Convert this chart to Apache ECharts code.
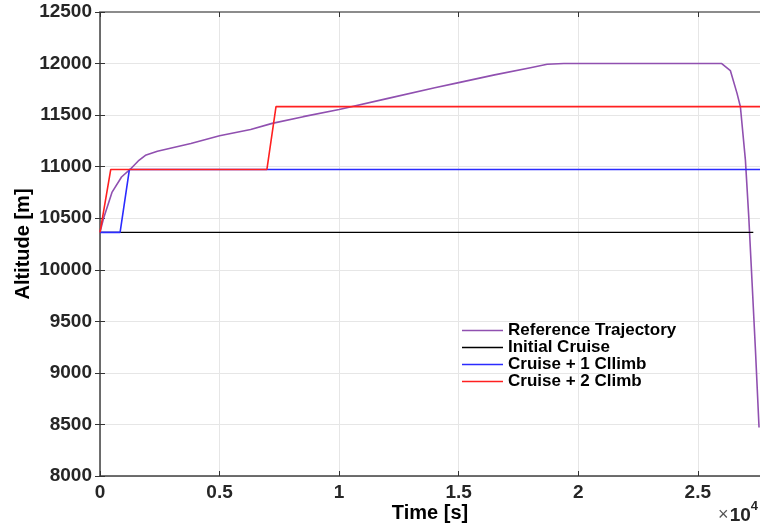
<!DOCTYPE html>
<html>
<head>
<meta charset="utf-8">
<title>Altitude profiles</title>
<script src="https://cdn.jsdelivr.net/npm/echarts@6/dist/echarts.min.js"></script>
<style>
  html, body { margin: 0; padding: 0; background: #fff; }
  #chart { width: 760px; height: 528px; }
</style>
</head>
<body>
<div id="chart"></div>
<script>
// Flight altitude profiles: time [s] vs altitude [m]
const seriesNames = ['Reference Trajectory', 'Initial Cruise', 'Cruise + 1 Cllimb', 'Cruise + 2 Climb'];
const seriesColors = ['#9050b0', '#000000', '#2b2bff', '#ff2020'];

const refTime = [0, 150, 500, 900, 1255, 1600, 1900, 2400, 3800, 5000, 6300, 7200, 8500, 10000, 12000, 14000, 15000, 16500, 18000, 18700, 19400, 26000, 26360, 26640, 26780, 26990, 27130, 27270, 27410, 27560];
const refAlt  = [10363, 10500, 10750, 10900, 10973, 11055, 11110, 11150, 11225, 11300, 11360, 11420, 11485, 11555, 11660, 11765, 11815, 11890, 11960, 11993, 12000, 12000, 11932, 11711, 11581, 11063, 10513, 9869, 9219, 8470];

const initTime = [0, 27320];
const initAlt  = [10363, 10363];

const oneClimbTime = [0, 840, 1230, 27600];
const oneClimbAlt  = [10363, 10363, 10973, 10973];

const twoClimbTime = [0, 450, 6980, 7360, 27600];
const twoClimbAlt  = [10363, 10973, 10973, 11582, 11582];

const xTicks = [0, 5000, 10000, 15000, 20000, 25000];
const yTicks = [8000, 8500, 9000, 9500, 10000, 10500, 11000, 11500, 12000, 12500];

const zip = (t, a) => t.map((v, i) => [v, a[i]]);
const seriesData = [
  zip(refTime, refAlt),
  zip(initTime, initAlt),
  zip(oneClimbTime, oneClimbAlt),
  zip(twoClimbTime, twoClimbAlt)
];

const FONT = '"Liberation Sans", Arial, Helvetica, sans-serif';
const chart = echarts.init(document.getElementById('chart'), null, { renderer: 'canvas' });

const tickStyle = { show: true, inside: true, length: 5, lineStyle: { color: '#333', width: 1 } };
const gridLine = { show: true, lineStyle: { color: '#e6e6e6', width: 1 } };

chart.setOption({
  animation: false,
  backgroundColor: '#fff',
  textStyle: { fontFamily: FONT },
  grid: { left: 100, right: 0, top: 12, bottom: 52, containLabel: false, outerBoundsMode: 'none' },
  legend: {
    orient: 'vertical',
    left: 462,
    top: 322,
    itemWidth: 41,
    itemHeight: 1.6,
    itemGap: 0,
    padding: 0,
    icon: 'rect',
    data: seriesNames,
    textStyle: { fontFamily: FONT, fontWeight: 'bold', fontSize: 17, color: '#000', lineHeight: 17 }
  },
  xAxis: [
    {
      type: 'value', position: 'bottom', min: 0, max: 27600, interval: 5000,
      axisLine: { show: true, onZero: false, lineStyle: { color: '#404040', width: 1.5 } },
      axisTick: tickStyle,
      splitLine: gridLine,
      axisLabel: {
        margin: 7, color: '#262626', fontWeight: 'bold', fontSize: 19, fontFamily: FONT,
        formatter: v => xTicks.includes(v) ? String(v / 10000) : ''
      },
      name: 'Time [s]', nameLocation: 'middle', nameGap: 27, nameMoveOverlap: false,
      nameTextStyle: { color: '#000', fontWeight: 'bold', fontSize: 20, fontFamily: FONT }
    },
    {
      type: 'value', position: 'top', min: 0, max: 27600, interval: 5000,
      axisLine: { show: true, onZero: false, lineStyle: { color: '#8c8c8c', width: 2 } },
      axisTick: tickStyle,
      splitLine: { show: false },
      axisLabel: { show: false }
    }
  ],
  yAxis: [
    {
      type: 'value', position: 'left', min: 8000, max: 12500, interval: 500,
      axisLine: { show: true, onZero: false, lineStyle: { color: '#404040', width: 1.5 } },
      axisTick: tickStyle,
      splitLine: gridLine,
      axisLabel: {
        margin: 8, color: '#262626', fontWeight: 'bold', fontSize: 19, fontFamily: FONT,
        formatter: v => yTicks.includes(v) ? String(v) : ''
      },
      name: 'Altitude [m]', nameLocation: 'middle', nameGap: 67, nameMoveOverlap: false,
      nameTextStyle: { color: '#000', fontWeight: 'bold', fontSize: 20, fontFamily: FONT }
    },
    {
      type: 'value', position: 'right', min: 8000, max: 12500, interval: 500,
      axisLine: { show: false },
      axisTick: tickStyle,
      splitLine: { show: false },
      axisLabel: { show: false }
    }
  ],
  graphic: [
    {
      type: 'text', right: 2, bottom: 3,
      style: {
        text: '{x|×}{b|10}{s|4}',
        rich: {
          x: { fontSize: 18, fontFamily: FONT, fill: '#555', padding: [6, 1, 0, 0] },
          b: { fontSize: 19, fontFamily: FONT, fontWeight: 'bold', fill: '#262626', padding: [6, 0, 0, 0] },
          s: { fontSize: 13, fontFamily: FONT, fontWeight: 'bold', fill: '#262626', verticalAlign: 'top', padding: [0, 0, 10, 0] }
        }
      }
    }
  ],
  series: seriesNames.map((name, i) => ({
    name: name,
    type: 'line',
    xAxisIndex: 0,
    yAxisIndex: 0,
    data: seriesData[i],
    symbol: 'none',
    showSymbol: false,
    clip: true,
    lineStyle: { color: seriesColors[i], width: i === 1 ? 1.2 : 1.6 },
    itemStyle: { color: seriesColors[i] }
  }))
});
</script>
</body>
</html>
